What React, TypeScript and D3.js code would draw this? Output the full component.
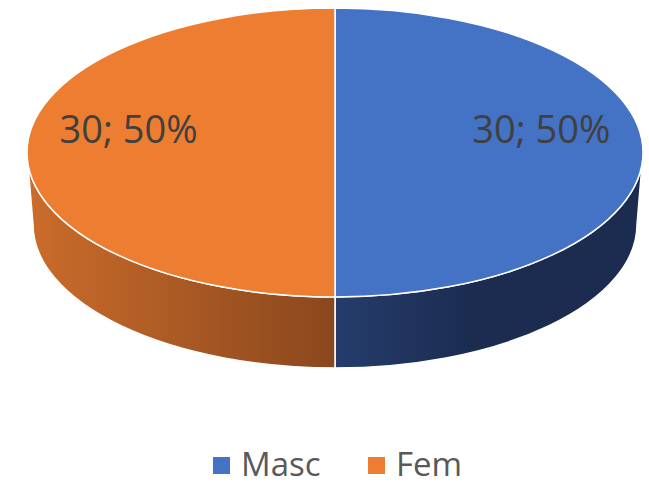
import React, { useEffect, useRef } from 'react';
import * as d3 from 'd3';

const categories = ['Masc', 'Fem'];
const values = [30, 30];
const topColors = ['#4472C4', '#ED7D31'];
const sideColors = [
  ['#253c6c', '#1b2c50'],
  ['#cb6c2b', '#8a471d'],
];

const W = 649;
const H = 485;

const App = () => {
  const svgRef = useRef<SVGSVGElement>(null);

  useEffect(() => {
    document.body.style.margin = '0';
    const svg = d3.select(svgRef.current);
    svg.selectAll('*').remove();

    // top face ellipse and the lower (shifted) ellipse for the side wall
    const cx = 335, cy = 152.5, rx = 308, ry = 144.5;
    const bx = 335, by = 224.5, brx = 302, bry = 143.5;

    const total = d3.sum(values);
    const pie = d3.pie<number>().sort(null).value(d => d);
    const arcs = pie(values);

    const pt = (a: number, x0: number, y0: number, ax: number, ay: number) =>
      [x0 + ax * Math.sin(a), y0 - ay * Math.cos(a)];

    const defs = svg.append('defs');
    sideColors.forEach((c, i) => {
      const g = defs.append('linearGradient')
        .attr('id', `side${i}`)
        .attr('gradientUnits', 'userSpaceOnUse')
        .attr('x1', i === 0 ? cx : cx - rx).attr('x2', i === 0 ? cx + rx * 0.45 : cx)
        .attr('y1', 0).attr('y2', 0);
      g.append('stop').attr('offset', '0%').attr('stop-color', c[0]);
      g.append('stop').attr('offset', '100%').attr('stop-color', c[1]);
    });

    // side walls (only the front half is visible)
    arcs.forEach((d, i) => {
      const a0 = Math.max(d.startAngle, Math.PI / 2);
      const a1 = Math.min(d.endAngle, Math.PI * 1.5);
      if (a1 <= a0) return;
      const t0 = pt(a0, cx, cy, rx, ry);
      const t1 = pt(a1, cx, cy, rx, ry);
      const b1 = pt(a1, bx, by, brx, bry);
      const b0 = pt(a0, bx, by, brx, bry);
      svg.append('path')
        .attr('d', `M${t0[0]},${t0[1]} A${rx},${ry} 0 0 1 ${t1[0]},${t1[1]} L${b1[0]},${b1[1]} A${brx},${bry} 0 0 0 ${b0[0]},${b0[1]} Z`)
        .attr('fill', `url(#side${i})`)
        .attr('stroke', '#fff')
        .attr('stroke-width', 1.5)
        .attr('stroke-linejoin', 'round');
    });

    // top face slices
    arcs.forEach((d, i) => {
      const s = pt(d.startAngle, cx, cy, rx, ry);
      const e = pt(d.endAngle, cx, cy, rx, ry);
      const large = d.endAngle - d.startAngle > Math.PI ? 1 : 0;
      svg.append('path')
        .attr('d', `M${cx},${cy} L${s[0]},${s[1]} A${rx},${ry} 0 ${large} 1 ${e[0]},${e[1]} Z`)
        .attr('fill', topColors[i])
        .attr('stroke', '#fff')
        .attr('stroke-width', 1.5)
        .attr('stroke-linejoin', 'round');
    });

    // data labels
    arcs.forEach(d => {
      const mid = (d.startAngle + d.endAngle) / 2;
      const p = pt(mid, cx, cy, rx * 0.67, ry * 0.67);
      svg.append('text')
        .attr('x', p[0])
        .attr('y', p[1] - 9.5)
        .attr('text-anchor', 'middle')
        .attr('font-family', 'Open Sans, sans-serif')
        .attr('font-size', 38)
        .attr('fill', '#404040')
        .text(`${d.data}; ${d3.format('.0%')(d.data / total)}`);
    });

    // legend
    const legendX = [213, 368];
    const lg = svg.append('g');
    categories.forEach((c, i) => {
      lg.append('rect')
        .attr('x', legendX[i]).attr('y', 457)
        .attr('width', 17).attr('height', 17)
        .attr('fill', topColors[i]);
      lg.append('text')
        .attr('x', legendX[i] + 28)
        .attr('y', 476)
        .attr('font-family', 'Open Sans, sans-serif')
        .attr('font-size', 33)
        .attr('fill', '#595959')
        .text(c);
    });
  }, []);

  return (
    <div style={{ position: 'absolute', left: 0, top: 0 }}>
      <svg ref={svgRef} width={W} height={H} style={{ display: 'block', background: '#fff' }} />
    </div>
  );
};

export default App;
